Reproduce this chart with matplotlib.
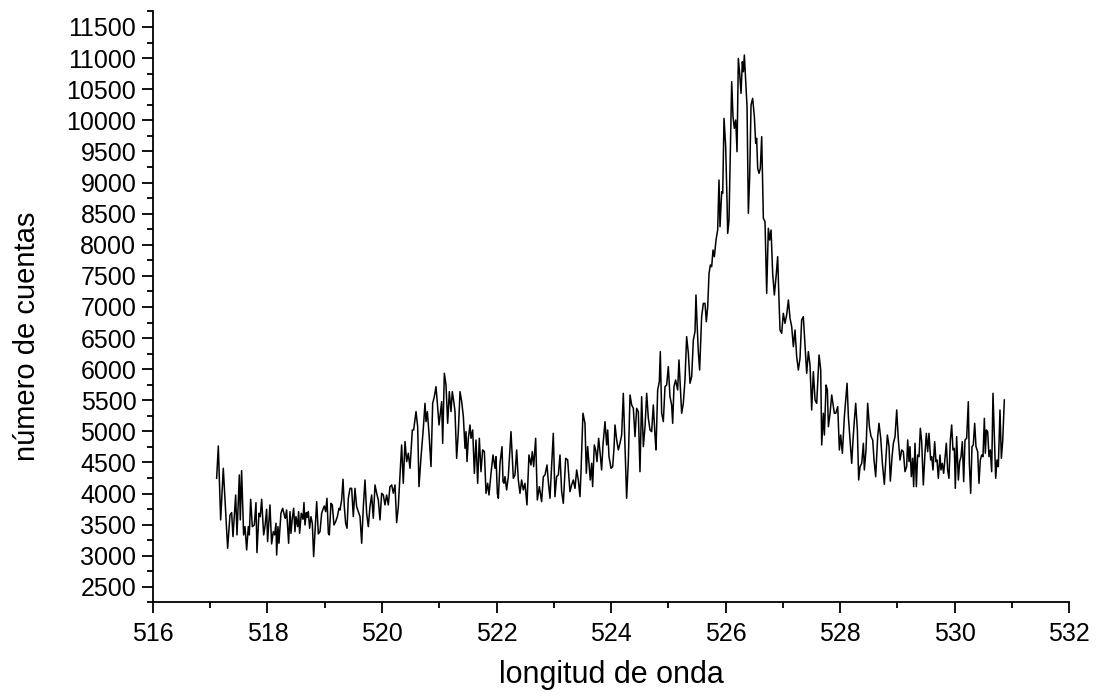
import numpy as np
import matplotlib.pyplot as plt
from matplotlib.ticker import MultipleLocator

plt.rcParams['font.family'] = ['Liberation Sans', 'DejaVu Sans']

# espectro (longitud de onda, cuentas)
wl = [517.112, 517.141, 517.182, 517.228, 517.304, 517.345, 517.374, 517.397, 517.444, 517.467,
      517.508, 517.525, 517.548, 517.583, 517.607, 517.636, 517.665, 517.682, 517.706, 517.735,
      517.770, 517.799, 517.816, 517.851, 517.874, 517.898, 517.933, 517.956, 517.985, 518.002,
      518.043, 518.072, 518.101, 518.125, 518.148, 518.160, 518.183, 518.200, 518.235, 518.265,
      518.294, 518.311, 518.334, 518.369, 518.393, 518.410, 518.433, 518.457, 518.480, 518.497,
      518.526, 518.544, 518.561, 518.590, 518.620, 518.637, 518.655, 518.678, 518.695, 518.713,
      518.736, 518.759, 518.783, 518.806,
      518.859, 518.888, 518.917, 518.946, 518.975, 518.993, 519.016, 519.039, 519.063, 519.080,
      519.109, 519.132, 519.161, 519.191, 519.220, 519.249, 519.266, 519.295, 519.319, 519.342,
      519.365, 519.389, 519.412, 519.441, 519.470, 519.499, 519.528, 519.557, 519.587, 519.616,
      519.645, 519.674, 519.703, 519.732, 519.761, 519.790, 519.819, 519.848, 519.878, 519.907,
      519.936, 519.965, 519.994, 520.023, 520.052, 520.081, 520.110, 520.139, 520.169, 520.198,
      520.227, 520.256, 520.285, 520.314, 520.343, 520.372,
      520.402, 520.431, 520.460, 520.489, 520.530, 520.553, 520.594, 520.623, 520.646, 520.682,
      520.722, 520.751, 520.769, 520.792, 520.821, 520.856, 520.885, 520.914, 520.943, 520.967,
      520.996, 521.042, 521.060, 521.089, 521.118, 521.147, 521.176, 521.205, 521.228, 521.258,
      521.275, 521.304, 521.333, 521.363, 521.392, 521.421, 521.450, 521.467, 521.485, 521.508,
      521.537, 521.555, 521.584, 521.613, 521.642, 521.671, 521.700, 521.729, 521.758, 521.788,
      521.817, 521.846, 521.869, 521.904, 521.939, 521.974, 521.991, 522.015, 522.032, 522.061,
      522.096, 522.114, 522.131,
      522.148, 522.177, 522.206, 522.253, 522.294, 522.323, 522.352, 522.381, 522.410, 522.439,
      522.468, 522.497, 522.532, 522.567, 522.602, 522.625, 522.649, 522.684, 522.713, 522.748,
      522.788, 522.818, 522.847, 522.882, 522.905, 522.934, 522.963, 522.992, 523.021, 523.050,
      523.080, 523.109, 523.138, 523.167, 523.208, 523.243, 523.283, 523.312, 523.342, 523.371,
      523.400, 523.429, 523.458, 523.475, 523.510, 523.545, 523.569, 523.592, 523.615, 523.638,
      523.662, 523.679, 523.708, 523.732, 523.755, 523.784, 523.813, 523.836, 523.860,
      523.895, 523.924, 523.942, 523.965, 524.000, 524.029, 524.052, 524.070, 524.099, 524.128,
      524.157, 524.186, 524.215, 524.244, 524.273, 524.303, 524.332, 524.361, 524.390, 524.419,
      524.448, 524.477, 524.506, 524.535, 524.565, 524.594, 524.623, 524.652, 524.681, 524.710,
      524.739, 524.768, 524.786, 524.815, 524.844, 524.861, 524.885, 524.914, 524.943, 524.972,
      525.001, 525.030, 525.059, 525.077, 525.100, 525.129, 525.164, 525.187, 525.211, 525.234,
      525.263, 525.292, 525.321, 525.351, 525.380, 525.409, 525.438, 525.467, 525.484, 525.502,
      525.525, 525.548, 525.583, 525.613,
      525.642, 525.665, 525.689, 525.712, 525.735, 525.758, 525.782, 525.805, 525.834, 525.863,
      525.886, 525.904, 525.933, 525.951, 525.974, 526.003, 526.026, 526.038, 526.061, 526.084,
      526.108, 526.131, 526.154, 526.178, 526.201, 526.224, 526.247, 526.271, 526.294, 526.312,
      526.329, 526.352, 526.376, 526.399, 526.422, 526.446, 526.474, 526.504, 526.527, 526.544,
      526.562, 526.585, 526.608, 526.632, 526.661, 526.690, 526.719, 526.748, 526.771, 526.795,
      526.824, 526.853, 526.888, 526.911,
      526.934, 526.952, 526.981, 527.010, 527.039, 527.068, 527.098, 527.127, 527.156, 527.185,
      527.214, 527.243, 527.272, 527.301, 527.330, 527.359, 527.389, 527.418, 527.447, 527.476,
      527.505, 527.534,
      527.564, 527.593, 527.634, 527.663, 527.680, 527.709, 527.727, 527.756, 527.779, 527.797,
      527.826, 527.855, 527.884, 527.901, 527.925, 527.960, 527.989, 528.012, 528.041, 528.076,
      528.099, 528.123, 528.146, 528.175, 528.204, 528.227, 528.251, 528.274, 528.303, 528.326,
      528.350, 528.379, 528.408, 528.425, 528.454, 528.483, 528.513, 528.542, 528.571, 528.594,
      528.623, 528.658, 528.681, 528.711, 528.740, 528.774, 528.804, 528.827, 528.856, 528.879,
      528.909, 528.932, 528.961, 528.990, 529.019, 529.048, 529.077, 529.106,
      529.135, 529.164, 529.182, 529.205, 529.222, 529.246, 529.269, 529.286, 529.310, 529.333,
      529.356, 529.380, 529.403, 529.426, 529.455, 529.484, 529.508, 529.531, 529.554, 529.583,
      529.601, 529.624, 529.653, 529.676, 529.694, 529.717, 529.746, 529.764, 529.787, 529.810,
      529.834, 529.857, 529.880, 529.903, 529.927, 529.950, 529.973, 529.997, 530.014, 530.037,
      530.067, 530.090, 530.113, 530.136, 530.160, 530.183, 530.212, 530.241, 530.259, 530.282,
      530.305, 530.328, 530.352, 530.375, 530.404, 530.427, 530.451, 530.474, 530.497, 530.521,
      530.538, 530.556, 530.579, 530.602, 530.625, 530.649, 530.672, 530.695, 530.719, 530.742,
      530.765, 530.794, 530.818, 530.841, 530.870]

cuentas = [4246, 4766, 3577, 4407, 3121, 3657, 3694, 3309, 3978, 3336,
           4300, 3577, 4369, 3336, 3469, 3094, 3469, 3336, 3909, 3469,
           3496, 3855, 3052, 3684, 3630, 3909, 3336, 3469, 3748, 3228,
           3818, 3191, 3389, 3336, 3523, 3014, 3469, 3202, 3684, 3764,
           3657, 3603, 3737, 3202, 3710, 3362, 3603, 3764, 3389, 3630,
           3469, 3710, 3362, 3684, 3587, 3855, 3496, 3694, 3619, 3710,
           3443, 3630, 3523, 2987,
           3871, 3352, 3389, 3684, 3764, 3801, 3710, 3925, 3362, 3336,
           3844, 3818, 3496, 3550, 3630, 3764, 3737, 3898, 4230, 3791,
           3523, 3443, 3925, 4085, 4085, 3630, 4085, 3791, 3710, 3630,
           3202, 3791, 4219, 3684, 3469, 3791, 3978, 3603, 4139, 4005,
           3898, 3577, 4005, 3978, 3818, 3978, 3818, 4112, 4139, 4005,
           4139, 3534, 3791, 4273, 4782, 4166,
           4835, 4514, 4648, 4407, 5023, 5023, 5318, 5077, 4112, 4594,
           5050, 5451, 5157, 5318, 4969, 4434, 5451, 5559, 5719, 5451,
           5103, 5478, 4808, 5934, 5746, 5130, 5639, 5318, 5639, 5451,
           5318, 4567, 4996, 5639, 5478, 5237, 4728, 4996, 4514, 4889,
           5103, 4889, 5023, 4326, 4862, 4166, 4889, 4353, 4702, 4675,
           4005, 4166, 3978, 4326, 4621, 4407, 4594, 4005, 3925, 4487,
           4755, 4193, 4166,
           4273, 4059, 4273, 4996, 4246, 4300, 4702, 4219, 4005, 4219,
           4059, 4166, 3818, 4621, 4460, 4675, 4434, 4889, 3898, 4112,
           3871, 4273, 4300, 4460, 4193, 3925, 4434, 4969, 3951, 4273,
           4300, 4621, 4032, 3844, 4568, 4541, 4032, 4139, 4219, 4085,
           4380, 4219, 3951, 4327, 5291, 5130, 4327, 4755, 4487, 4219,
           4487, 4112, 4782, 4702, 4514, 4889, 4621, 4380, 4782,
           5157, 4782, 5023, 4594, 4407, 4434, 4728, 5103, 4862, 4702,
           4809, 4942, 5612, 4755, 3925, 4541, 5585, 5425, 5371, 4916,
           5371, 5318, 4353, 5558, 4755, 5077, 5612, 5210, 5023, 4996,
           5425, 4942, 4702, 5666, 5800, 6282, 5291, 5157, 5719, 5746,
           6041, 5558, 5425, 5130, 5719, 5826, 5666, 6148, 5719, 5291,
           5451, 5826, 6523, 6255, 5773, 5880, 6469, 6603, 7192, 6764,
           6282, 5987, 6844, 7058,
           7058, 6763, 7005, 7540, 7674, 7647, 7915, 7808, 8076, 8237,
           9040, 8290, 8853, 8826, 10031, 9576, 8719, 8183, 8397, 9523,
           10621, 10058, 9871, 10005, 9496, 10996, 10755, 10433, 10942, 10781,
           11049, 10648, 10219, 8505, 9094, 10246, 10353, 10058, 9630, 9710,
           9228, 9147, 9228, 9737, 8424, 8371, 7219, 8264, 8076, 8237,
           7540, 7192, 7540, 7808,
           7112, 6630, 6576, 6898, 6737, 6871, 7112, 6817, 6683, 6362,
           6630, 6201, 5987, 6174, 6791, 6844, 6389, 5933, 6282, 6067,
           5344, 5960,
           5505, 5451, 6228, 5987, 4782, 5291, 4942, 5746, 5666, 5076,
           5291, 5585, 5397, 5291, 5291, 5397, 4701, 4942, 4648, 5237,
           5505, 5773, 5237, 4862, 4487, 4862, 5183, 5451, 5023, 4219,
           4433, 4487, 4808, 4380, 4701, 5451, 5076, 4916, 4862, 4540,
           4272, 4916, 5130, 4889, 4487, 4150, 4594, 4942, 4755, 4200,
           4594, 4808, 4916, 5344, 4862, 4540, 4701, 4674,
           4353, 4434, 4862, 4514, 4755, 4273, 4568, 4112, 4809, 4112,
           4621, 4594, 5050, 4835, 4139, 4648, 4969, 4675, 4969, 4541,
           4594, 4380, 4835, 4514, 4541, 4246, 4621, 4380, 4487, 4326,
           4568, 4809, 4380, 4246, 4862, 5103, 4701, 4728, 4085, 4916,
           4219, 4514, 4594, 4835, 4193, 4862, 4889, 5478, 4487, 4005,
           4755, 4782, 5130, 4755, 4675, 4166, 4541, 4621, 4594, 5210,
           4648, 5023, 4996, 4594, 4701, 4353, 5612, 4916, 4246, 4541,
           4434, 5344, 4568, 4835, 5505]

fig = plt.figure(figsize=(11.03, 6.97), dpi=100)
ax = fig.add_axes([0.1387, 0.1356, 0.8305, 0.848])
ax.plot(wl, cuentas, color='black', lw=1.1)

ax.set_xlim(516, 532)
ax.set_ylim(2250, 11750)
ax.xaxis.set_major_locator(MultipleLocator(2))
ax.xaxis.set_minor_locator(MultipleLocator(1))
ax.yaxis.set_major_locator(MultipleLocator(500))
ax.yaxis.set_minor_locator(MultipleLocator(250))
ax.set_yticks(np.arange(2500, 11501, 500))

for s in ['top', 'right']:
    ax.spines[s].set_visible(False)
for s in ['left', 'bottom']:
    ax.spines[s].set_linewidth(1.3)
ax.tick_params(which='major', direction='out', length=8, width=1.3, labelsize=18)
ax.tick_params(which='minor', direction='out', length=4.5, width=1.3)
ax.tick_params(axis='y', pad=4)
ax.tick_params(axis='x', pad=6)

ax.set_xlabel('longitud de onda', fontsize=22)
ax.set_ylabel('número de cuentas', fontsize=21)
ax.xaxis.set_label_coords(0.5, -0.097)
ax.yaxis.set_label_coords(-0.122, 0.45)

fig.savefig('out.png', dpi=100)
